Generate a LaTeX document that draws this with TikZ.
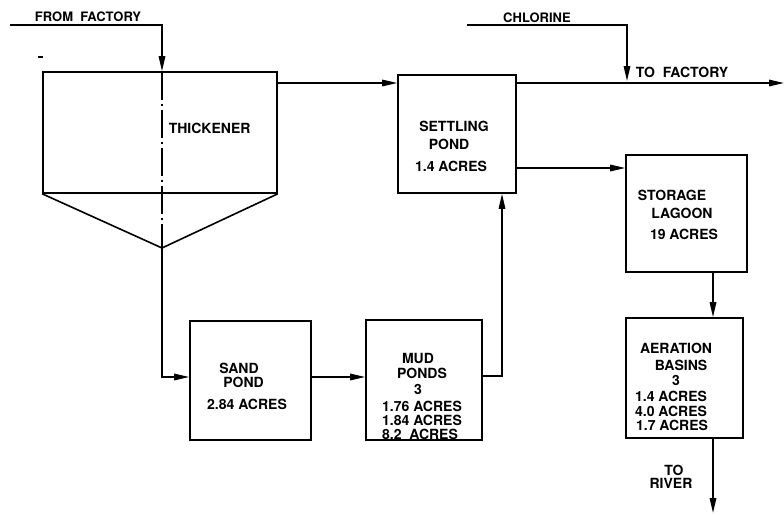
\documentclass[tikz,border=0pt]{standalone}
\usepackage{fontspec}
\setmainfont{TeX Gyre Heros}
\usetikzlibrary{arrows.meta}
\begin{document}
\begin{tikzpicture}[x=1pt,y=-1pt,
  line width=1.6pt,
  box/.style={draw, rectangle, inner sep=0pt, line width=1.6pt},
  txt/.style={font=\fontsize{14}{15}\selectfont\bfseries, inner sep=0pt, anchor=base},
  lbl/.style={font=\fontsize{13}{15}\selectfont\bfseries, inner sep=0pt, anchor=base},
  arr/.style={-{Triangle[length=15pt,width=6.5pt]}, line width=1.6pt},
  center line/.style={line width=1.1pt, dash pattern=on 28pt off 4pt on 2pt off 4pt},
]
\useasboundingbox (0,0) rectangle (784,514);

% boxes
\node[box, minimum width=234pt, minimum height=121pt] (thick) at (160,132.5) {};
\coordinate (apex) at (162,248);
\draw[line join=round] (thick.south west) -- (apex) -- (thick.south east);
\node[box, minimum width=118pt, minimum height=118pt] (settle) at (457,134) {};
\node[box, minimum width=121pt, minimum height=117pt] (stor) at (686.5,213.5) {};
\node[box, minimum width=117pt, minimum height=120pt] (aer) at (684.5,378) {};
\node[box, minimum width=121pt, minimum height=119pt] (sand) at (250.5,380.5) {};
\node[box, minimum width=116pt, minimum height=120pt] (mud) at (424,380) {};

% texts
\node[txt, anchor=base west] (tk) at (168,133) {THICKENER};
\node[txt] (se1) at (454,131) {SETTLING};
\node[txt] (se2) at (449,149) {POND};
\node[txt] (se3) at (451,171) {1.4 ACRES};
\node[txt] (st1) at (672,200) {STORAGE};
\node[txt] (st2) at (682,218) {LAGOON};
\node[txt] (st3) at (684,239) {19 ACRES};
\node[txt] (sa1) at (239,373) {SAND};
\node[txt] (sa2) at (243.5,387) {POND};
\node[txt] (sa3) at (247,409) {2.84 ACRES};
\node[txt] (mu1) at (418,363) {MUD};
\node[txt] (mu2) at (422,378) {PONDS};
\node[txt] (mu3) at (418,394.5) {3};
\node[txt] (mu4) at (422,411.5) {1.76 ACRES};
\node[txt] (mu5) at (422,425) {1.84 ACRES};
\node[txt] (mu6) at (420,439) {8.2 \ ACRES};
\node[txt] (ae1) at (676,353) {AERATION};
\node[txt] (ae2) at (681,370) {BASINS};
\node[txt] (ae3) at (676,385) {3};
\node[txt] (ae4) at (671,401) {1.4 ACRES};
\node[txt] (ae5) at (671,416) {4.0 ACRES};
\node[txt] (ae6) at (672,430) {1.7 ACRES};
\node[txt] (tr1) at (674,475) {TO};
\node[txt] (tr2) at (671,488) {RIVER};
\node[lbl] (ff) at (88,21) {FROM \ FACTORY};
\node[lbl] (cl) at (537,22) {CHLORINE};
\node[txt, anchor=base west] (tf) at (635,77) {TO \ FACTORY};

% free ends
\coordinate (ffstart) at (10,25);
\coordinate (ffcorner) at (162,25);
\coordinate (clstart) at (467,25);
\coordinate (clcorner) at (627,25);
\coordinate (clend) at (627,81);
\coordinate (tfend) at (784,83);
\coordinate (river) at (713,513);
\coordinate (sandcorner) at (162,377);
\coordinate (mudcorner) at (502,376);

% stray mark
\draw[line width=1.2pt] (38,57) -- (43,57);

% centre line of thickener
\draw[center line] (162,72) -- (apex);

% connectors
\draw[arr] (ffstart) -- (ffcorner) -- (thick.north -| ffcorner);
\draw[arr] (thick.east |- 0,83) -- (settle.west |- 0,83);
\draw[arr] (settle.east |- 0,83) -- (tfend);
\draw[arr] (clstart) -- (clcorner) -- (clend);
\draw[arr] (settle.east |- 0,168) -- (stor.west |- 0,168);
\draw[arr] (stor.south -| 713,0) -- (aer.north -| 713,0);
\draw[arr] (aer.south -| 713,0) -- (river);
\draw[arr] (apex) -- (sandcorner) -- (sand.west |- sandcorner);
\draw[arr] (sand.east |- 0,377) -- (mud.west |- 0,377);
\draw[arr] (mud.east |- mudcorner) -- (mudcorner) -- (settle.south -| mudcorner);
\end{tikzpicture}
\end{document}
